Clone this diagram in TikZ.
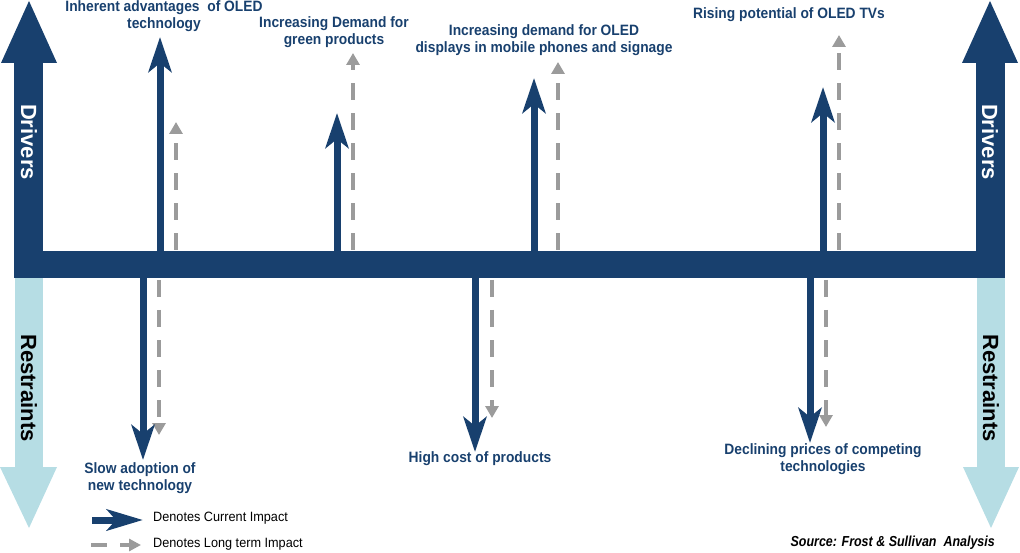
\documentclass[tikz,border=0pt]{standalone}
\usepackage{fontspec}
\setmainfont{Liberation Sans}
\newfontfamily\lblfont[FakeStretch=0.92]{Liberation Sans}
\newfontfamily\legfont[FakeStretch=0.94]{Liberation Sans}
\newfontfamily\srcfont[FakeStretch=0.86]{Liberation Sans}
\usetikzlibrary{arrows.meta}
\definecolor{navy}{RGB}{24,64,110}
\definecolor{lightb}{RGB}{182,221,228}
\definecolor{dgrey}{RGB}{155,155,155}
\tikzset{
  cur/.style={draw=navy, line width=7pt, -{Stealth[length=35pt,width=23pt,inset=9pt]}},
  longt/.style={draw=dgrey, line width=4.5pt, dash pattern=on 17pt off 13pt, -{Triangle[length=12pt,width=13pt]}},
  lbl/.style={text=navy, font=\lblfont\bfseries\fontsize{15}{17}\selectfont, align=center, inner sep=0pt},
  side/.style={font=\bfseries\fontsize{22}{24}\selectfont, rotate=-90, inner sep=0pt},
  legtxt/.style={font=\legfont\fontsize{13.5}{15}\selectfont, anchor=west, inner sep=0pt},
  barbox/.style={fill=navy, minimum width=991pt, minimum height=27pt, inner sep=0pt},
}
\begin{document}
\begin{tikzpicture}[x=1pt,y=-1pt]
\useasboundingbox (0,0) rectangle (1020,553);
% big side arrows
\fill[lightb] (15,278) rectangle (43,467);
\fill[lightb] (0,467) -- (29,528) -- (57,467) -- cycle;
\fill[lightb] (977,278) rectangle (1005,467);
\fill[lightb] (963,467) -- (991,528) -- (1019,467) -- cycle;
\fill[navy] (14,63) rectangle (43,278);
\fill[navy] (1,63) -- (29,1) -- (57,63) -- cycle;
\fill[navy] (976,63) rectangle (1005,278);
\fill[navy] (962,63) -- (990,1) -- (1018,63) -- cycle;
\node[barbox] (bar) at (509.5,264.5) {};
\node[side, text=white] (dl) at (29,142) {Drivers};
\node[side, text=white] (dr) at (990,142) {Drivers};
\node[side, text=black] (rl) at (29,388) {Restraints};
\node[side, text=black] (rr) at (991,388) {Restraints};
% driver arrows
\coordinate (d1s) at (160,252); \coordinate (d1e) at (160,37);
\coordinate (d1ls) at (176,250); \coordinate (d1le) at (176,122);
\coordinate (d2s) at (337,252); \coordinate (d2e) at (337,113);
\coordinate (d2ls) at (353,250); \coordinate (d2le) at (353,53);
\coordinate (d3s) at (534,252); \coordinate (d3e) at (534,78);
\coordinate (d3ls) at (558,250); \coordinate (d3le) at (558,62);
\coordinate (d4s) at (823,252); \coordinate (d4e) at (823,87);
\coordinate (d4ls) at (839,250); \coordinate (d4le) at (839,35);
\draw[longt] (d1ls) -- (d1le);
\draw[cur] (d1s) -- (d1e);
\draw[longt] (d2ls) -- (d2le);
\draw[cur] (d2s) -- (d2e);
\draw[longt] (d3ls) -- (d3le);
\draw[cur] (d3s) -- (d3e);
\draw[longt] (d4ls) -- (d4le);
\draw[cur] (d4s) -- (d4e);
% restraint arrows
\coordinate (r1s) at (143,277); \coordinate (r1e) at (143,460);
\coordinate (r1ls) at (159,280); \coordinate (r1le) at (159,435);
\coordinate (r2s) at (475,277); \coordinate (r2e) at (475,452);
\coordinate (r2ls) at (492,280); \coordinate (r2le) at (492,418);
\coordinate (r3s) at (810,277); \coordinate (r3e) at (810,443);
\coordinate (r3ls) at (826,280); \coordinate (r3le) at (826,427);
\draw[longt] (r1ls) -- (r1le);
\draw[cur] (r1s) -- (r1e);
\draw[longt] (r2ls) -- (r2le);
\draw[cur] (r2s) -- (r2e);
\draw[longt] (r3ls) -- (r3le);
\draw[cur] (r3s) -- (r3e);
% labels
\node[lbl] (l1) at (164,16) {Inherent advantages \ of OLED\\technology};
\node[lbl] (l2) at (334,32.5) {Increasing Demand for\\green products};
\node[lbl] (l3) at (544,40.5) {Increasing demand for OLED\\displays in mobile phones and signage};
\node[lbl] (l4) at (789,15) {Rising potential of OLED TVs};
\node[lbl] (l5) at (140,478.5) {Slow adoption of\\new technology};
\node[lbl] (l6) at (480,459) {High cost of products};
\node[lbl] (l7) at (823,459) {Declining prices of competing\\technologies};
% legend
\coordinate (lg1s) at (92,520); \coordinate (lg1e) at (143,520);
\draw[draw=navy, line width=7pt, -{Stealth[length=36pt,width=21pt,inset=9pt]}] (lg1s) -- (lg1e);
\node[legtxt] (lt1) at (153,518) {Denotes Current Impact};
\coordinate (lg2s) at (91,545); \coordinate (lg2e) at (141,545);
\draw[draw=dgrey, line width=4.5pt, dash pattern=on 16pt off 13pt, -{Triangle[length=12pt,width=12pt]}] (lg2s) -- (lg2e);
\node[legtxt] (lt2) at (153,544) {Denotes Long term Impact};
\node[font=\srcfont\bfseries\itshape\fontsize{14.5}{16}\selectfont, anchor=east, inner sep=0pt] (src) at (995,543) {Source: Frost \& Sullivan \ Analysis};
\end{tikzpicture}
\end{document}
